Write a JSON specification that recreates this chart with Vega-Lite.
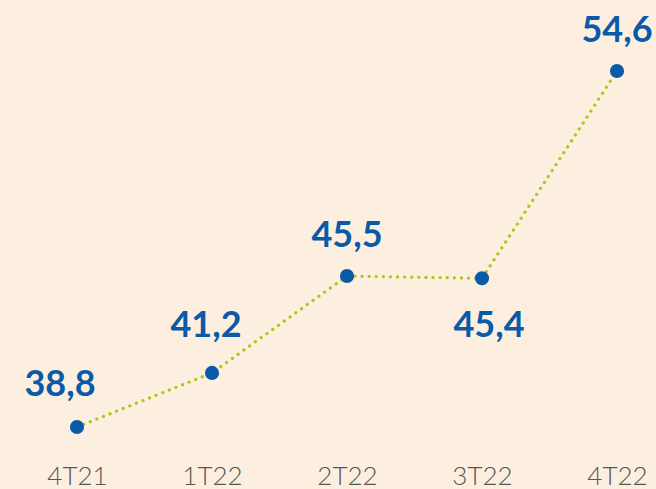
{
  "$schema": "https://vega.github.io/schema/vega-lite/v6.json",
  "width": 656,
  "height": 450,
  "autosize": {"type": "none"},
  "padding": {"left": 0, "top": 0, "right": 0, "bottom": 39},
  "background": "#fdefdf",
  "config": {
    "view": {"stroke": null},
    "locale": {"number": {"decimal": ",", "thousands": ".", "grouping": [3], "currency": ["", ""]}}
  },
  "data": {
    "values": [
      {"q": "4T21", "v": 38.8, "pos": "above"},
      {"q": "1T22", "v": 41.2, "pos": "above"},
      {"q": "2T22", "v": 45.5, "pos": "above"},
      {"q": "3T22", "v": 45.4, "pos": "below"},
      {"q": "4T22", "v": 54.6, "pos": "above"}
    ]
  },
  "encoding": {
    "x": {
      "field": "q", "type": "ordinal", "sort": null,
      "scale": {"type": "point", "range": [77, 617], "padding": 0},
      "axis": {"title": null, "domain": false, "ticks": false, "labelAngle": 0, "labelFont": "Lato", "labelFontWeight": 300, "labelFontSize": 26, "labelColor": "#555555", "labelPadding": 13}
    },
    "y": {
      "field": "v", "type": "quantitative",
      "scale": {"domain": [37.78, 57.75], "zero": false, "nice": false},
      "axis": null
    }
  },
  "layer": [
    {"mark": {"type": "line", "color": "#a9c818", "strokeWidth": 3.2, "strokeCap": "round", "strokeDash": [0.1, 7]}},
    {"mark": {"type": "circle", "color": "#0a5aa8", "opacity": 1, "size": 200}},
    {
      "transform": [{"filter": "datum.pos == 'above' && datum.q != '4T21' && datum.q != '1T22'"}],
      "mark": {"type": "text", "font": "Lato", "fontWeight": "bold", "fontSize": 36, "color": "#0a5aa8", "dy": -40},
      "encoding": {"text": {"field": "v", "type": "quantitative", "format": ".1f"}}
    },
    {
      "transform": [{"filter": "datum.q == '1T22'"}],
      "mark": {"type": "text", "font": "Lato", "fontWeight": "bold", "fontSize": 36, "color": "#0a5aa8", "dy": -47, "dx": -6},
      "encoding": {"text": {"field": "v", "type": "quantitative", "format": ".1f"}}
    },
    {
      "transform": [{"filter": "datum.q == '4T21'"}],
      "mark": {"type": "text", "font": "Lato", "fontWeight": "bold", "fontSize": 36, "color": "#0a5aa8", "dy": -42, "dx": -17},
      "encoding": {"text": {"field": "v", "type": "quantitative", "format": ".1f"}}
    },
    {
      "transform": [{"filter": "datum.pos == 'below'"}],
      "mark": {"type": "text", "font": "Lato", "fontWeight": "bold", "fontSize": 36, "color": "#0a5aa8", "dy": 48, "dx": 7},
      "encoding": {"text": {"field": "v", "type": "quantitative", "format": ".1f"}}
    }
  ]
}
